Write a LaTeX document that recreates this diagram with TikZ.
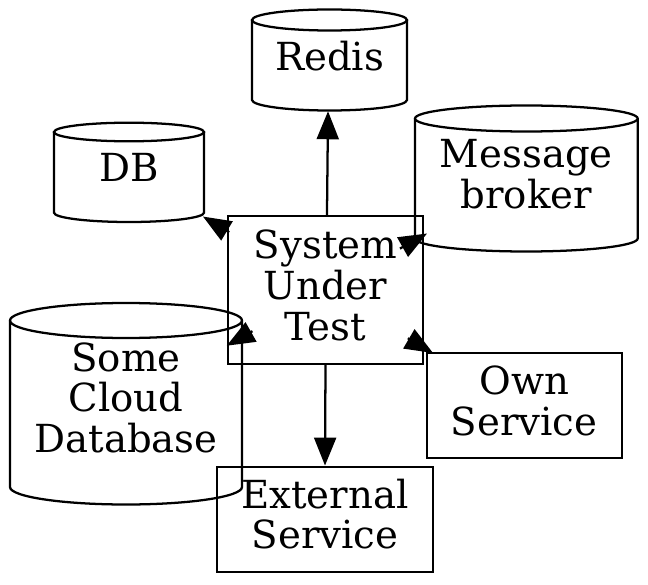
\documentclass[tikz,border=0pt]{standalone}
\usepackage{fontspec}
\setmainfont{DejaVu Serif}
\usetikzlibrary{arrows.meta}
\newcommand\tA{\rule{0pt}{22.3pt}}
\newcommand\tB{\rule[-8.3pt]{0pt}{8.3pt}}
\newcommand\cylout[5]{%
  \pgfmathsetmacro\cylcx{(#1+#2)/2}%
  \pgfmathsetmacro\cylrx{(#2-#1)*0.375}%
  \pgfmathsetmacro\cylry{#5*0.75}%
  \draw[shapeline] (\cylcx,#3) ellipse[x radius=\cylrx pt, y radius=\cylry pt];
  \draw[shapeline] (#1,#3) -- (#1,#4) arc[start angle=180,end angle=360,x radius=\cylrx pt,y radius=\cylry pt] -- (#2,#3);
}
\tikzset{
  shapeline/.style={line width=1.7pt},
  lbl/.style={align=center, inner sep=0pt, font=\fontsize{29pt}{30.6pt}\selectfont},
  cylnode/.style={lbl, rectangle, draw=none},
  boxnode/.style={lbl, rectangle, draw, line width=1.7pt},
  arr/.style={line width=1.7pt, -{Triangle[length=21pt,width=16.5pt]}}
}
\begin{document}
\begin{tikzpicture}[x=0.75pt,y=-0.75pt]
\useasboundingbox (0,0) rectangle (648,584);

% cylinders
\node[cylnode, minimum width=116.25pt, minimum height=75pt] (redis) at (329.5,61) {\tA Redis\tB};
\cylout{252}{407}{20}{100}{10.5}
\node[cylnode, minimum width=112.5pt, minimum height=74.25pt] (db) at (129,172.2) {\tA DB\tB};
\cylout{54}{204}{132}{212.7}{9.3}
\node[cylnode, minimum width=167pt, minimum height=110pt] (mb) at (526.3,178.3) {\tA Message\\broker\tB};
\cylout{415}{637.7}{118.5}{238.5}{13}
\node[cylnode, minimum width=174pt, minimum height=150.75pt] (cloud) at (126,402.5) {\tA Some\\Cloud\\Database\tB};
\cylout{10}{242}{320.5}{487}{17.5}

% boxes
\node[boxnode, minimum width=146.25pt, minimum height=111pt] (sut) at (325.5,290) {\tA System\\Under\\Test\tB};
\node[boxnode, minimum width=146.25pt, minimum height=79.2pt] (own) at (524.2,405.5) {\tA Own\\Service\tB};
\node[boxnode, minimum width=162.5pt, minimum height=78.75pt] (ext) at (325,519.2) {\tA External\\Service\tB};

\coordinate (ownT) at (433,353);

% edges
\draw[arr] ([xshift=1.1pt]sut.north) -- ([xshift=-1.1pt]redis.south);
\draw[arr] (sut.south) -- (ext.north);
\draw[arr, shorten <=84.2pt, shorten >=64.7pt] (sut.center) -- (db.center);
\draw[arr, shorten <=63.9pt, shorten >=85.2pt] (sut.center) -- (mb.center);
\draw[arr, shorten <=62.9pt, shorten >=86.7pt] (sut.center) -- (cloud.center);
\draw[arr, shorten <=71.6pt] (sut.center) -- (ownT);
\end{tikzpicture}
\end{document}
